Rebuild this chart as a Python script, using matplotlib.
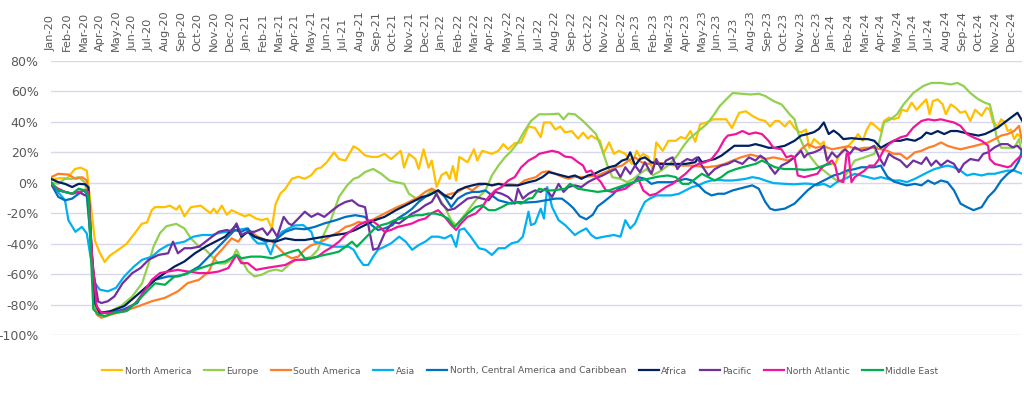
import matplotlib
matplotlib.use("Agg")
import matplotlib.pyplot as plt

plt.rcParams['font.family'] = ['DejaVu Sans']

month_names = ["Jan", "Feb", "Mar", "Apr", "May", "Jun", "Jul", "Aug", "Sep", "Oct", "Nov", "Dec"]
years = ["20", "21", "22", "23", "24"]
tick_labels = [f"{m}-{y}" for y in years for m in month_names]

series_names = ["North America", "Europe", "South America", "Asia",
                "North, Central America and Caribbean", "Africa", "Pacific",
                "North Atlantic", "Middle East"]
colors = ["#FFC000", "#92D050", "#FF7F27", "#00B0F0", "#0070C0",
          "#002060", "#7030A0", "#F0169B", "#00B050"]

# x = months since Jan-2020, y = % change
na_x = [0, 0.5, 1, 1.47, 1.8, 2.2, 2.45, 2.7, 3.0, 3.3, 3.6, 4.14, 4.65, 5.16, 5.57, 5.9, 6.19, 6.39, 7.0, 7.3, 7.7, 7.9, 8.2, 8.6, 9.2, 9.8, 10.0, 10.2, 10.5, 10.8, 11.1, 11.5, 11.9, 12.2, 12.6, 12.95, 13.3, 13.57, 13.8, 14.1, 14.4, 14.8,
        15.2, 15.6, 16.0, 16.3, 16.6, 16.95, 17.4, 17.7, 18.1, 18.6, 18.9, 19.3, 19.7, 20.1, 20.5, 20.9, 21.5, 21.7, 22.0, 22.4, 22.6, 22.9, 23.2, 23.4, 23.7, 24.0, 24.3, 24.5, 24.7, 24.9, 25.1, 25.6, 26.0, 26.2, 26.5, 27.1, 27.5, 27.8, 28.1, 28.5, 28.9, 29.35,
        29.75, 30.1, 30.3, 30.7, 31.0, 31.3, 31.6, 32.0, 32.4, 32.7, 33.0, 33.2, 33.5, 33.75, 33.95, 34.3, 34.6, 34.9, 35.3, 35.7, 36.0, 36.2, 36.4, 36.7, 37.0, 37.2, 37.6, 37.95, 38.4, 38.7, 39.0, 39.3, 39.6, 39.9, 40.3, 40.7, 41.0, 41.5, 41.85, 42.3, 42.7, 43.1, 43.5, 43.9, 44.2, 44.5,
        44.75, 45.1, 45.4, 45.7, 45.9, 46.1, 46.4, 46.6, 46.9, 47.3, 47.5, 47.7, 47.9, 48.2, 48.4, 48.6, 48.8, 49.1, 49.4, 49.6, 49.9, 50.1, 50.4, 50.7, 51.0, 51.2, 51.5, 51.8, 52.1, 52.3, 52.6, 52.9, 53.2, 53.5, 53.8, 54.0, 54.2, 54.5, 54.8, 55.0, 55.3, 55.6, 55.9, 56.2, 56.5, 56.8, 57.2, 57.5, 57.7, 57.9, 58.2, 58.4, 58.6, 58.8, 59.0, 59.2, 59.4, 59.7]
na_y = [2, 3, 3, 9, 10, 8, -15, -38, -46, -52, -48, -44, -40, -33, -27, -26, -18, -16, -16, -15, -17.6, -15, -22, -16, -15, -20, -17, -20, -15, -21, -18, -20, -22, -21, -23.5, -24.5, -23.5, -30, -14, -7, -4, 2.6,
        4, 2.6, 5, 9, 10, 13.5, 20, 15.6, 14.6, 24, 22, 18, 17, 17, 19, 15.6, 21, 10, 19, 15.6, 9, 22, 10, 14.6, -2.8, 5, 7, 2.6, 11, 1.5, 17, 13.5, 22, 14.6, 21, 19, 21, 25.4, 22, 26, 26.5, 37,
        36, 30, 39.6, 39.6, 35, 37, 33, 34, 29, 33, 29, 31, 29, 27.6, 19, 26.5, 19, 21, 19, 12.4, 21, 17, 19, 17, 8, 26.5, 21, 27.6, 27.6, 30, 29, 34, 27, 38.5, 39.6, 41.7, 41.7, 41.7, 36, 46, 47, 44, 41.7, 40.6, 37, 40.6,
        40.6, 37, 40.6, 36, 34, 33, 35, 23, 28.7, 25, 27, 14.6, 12.4, 12.4, 17, 21, 22, 25.4, 28.7, 32, 27.6, 34, 39.6, 37, 34, 40.6, 42.8, 41.7, 42.8, 48, 47, 52.6, 48, 51.5, 54.8, 45, 53.7, 54.8, 51.5, 45, 51.5, 49.3, 46, 47, 40.6, 48, 44, 49.3, 48, 39.6, 37, 41.7, 40, 34, 35, 28.7, 32, 28.7]

eu_x = [0, 0.45, 0.86, 1.3, 1.7, 2.1, 2.4, 2.7, 3.0, 3.5, 4.3, 5.0, 5.6, 6.0, 6.3, 6.7, 7.1, 7.7, 8.2, 8.6, 9.1, 9.5, 9.9, 10.3, 10.7, 11.1, 11.4, 11.7, 12.1, 12.5, 12.95, 13.4, 13.8, 14.2, 14.6, 15.0, 15.6, 16.0, 16.4, 16.7, 17.2, 17.7, 18.2, 18.6, 18.9, 19.3, 19.8, 20.3, 20.8, 21.2, 21.7, 22.0, 22.3, 22.6, 23.0, 23.4, 23.8, 24.2, 24.6, 24.9, 25.5, 26.1, 26.7, 27.1, 27.5, 27.9, 28.3, 28.7, 29.1, 29.5, 30.0, 30.6, 31.2, 31.5, 31.8, 32.2, 32.7, 33.1, 33.5, 33.9, 34.2, 34.5, 35.0, 35.4, 35.8, 36.2, 36.6, 37.0, 37.5, 38.0, 38.5, 38.8, 39.2, 39.8, 40.3, 40.7, 41.1, 41.5, 41.9, 42.4, 43.0, 43.5, 43.9, 44.4, 44.9, 45.4, 45.7, 46.0, 46.3, 46.7, 47.1, 47.5, 48.0, 48.3, 48.6, 48.9, 49.4, 50.0, 50.6, 50.9, 51.2, 51.6, 52.0, 52.4, 53.0, 53.6, 54.1, 54.7, 55.3, 55.7, 56.1, 56.5, 57.0, 57.4, 57.7, 57.9, 58.1, 58.4, 58.8, 59.2, 59.5, 59.7]
eu_y = [0, -0.6, 2.6, 2.6, 3.7, 0, -30, -83, -86.5, -85, -81, -74.6, -66, -53, -42, -33, -28.5, -27, -30, -36.5, -42, -44, -48.5, -53, -53, -50.6, -44, -50.6, -58, -61.5, -60.4, -58, -57, -58, -54, -51, -50, -48.5, -44, -35.4, -24.6, -9.3, -1.7, 2.6, 3.7, 7, 9.1, 5.9, 1.5, 0.4, -0.7, -7.2, -9.3, -11.5, -9.3, -5, -9.3, -16, -24.6, -28, -20, -11.5, -5, 4.8, 11.3, 16.7, 21, 26.5, 34, 40.6, 45, 45, 45.4, 41.7, 45.4, 45, 40.6, 36.3, 32, 21, 11.3, 3.7, 2.6, 0.4, 2.6, 6, 9, 5, 8, 12, 18, 23, 28.7, 34, 38.5, 44, 50.4, 54.8, 59, 58.5, 58, 58.5, 57, 53.7, 51.5, 45, 41.7, 30, 23, 16.7, 11.3, 8, 3.7, 1.5, 1, 5.9, 14.6, 16.7, 19, 26.5, 39.6, 41.7, 45, 51.5, 59, 63.5, 65.6, 65.6, 64.6, 65.6, 63.5, 59, 54.8, 52.6, 51.5, 42.8, 31, 23, 23, 23, 28.7, 16.7]

sa_x = [0, 0.45, 1.07, 1.5, 1.9, 2.2, 2.45, 2.8, 3.1, 3.7, 4.5, 5.4, 6.2, 7.0, 7.8, 8.4, 9.1, 9.7, 10.1, 10.5, 11.1, 11.5, 11.9, 12.3, 12.7, 13.2, 13.6, 14.0, 14.4, 14.8, 15.2, 15.6, 16.0, 16.4, 16.8, 17.3, 17.7, 18.1, 18.5, 18.9, 19.3, 19.7, 20.1, 20.5, 20.9, 21.3, 21.8, 22.2, 22.6, 23.0, 23.4, 23.8, 24.2, 24.6, 25.0, 25.5, 25.9, 26.3, 26.7, 27.1, 27.5, 28.3, 28.7, 29.1, 29.8, 30.2, 30.6, 31.0, 31.4, 31.8, 32.2, 32.7, 33.6, 34.3, 34.7, 35.1, 35.5, 35.9, 36.3, 36.7, 37.2, 37.7, 38.4, 39.4, 40.3, 40.9, 41.4, 41.9, 42.4, 43.0, 43.5, 43.9, 44.4, 44.9, 45.3, 45.7, 46.1, 46.5, 47.0, 47.5, 48.0, 48.5, 49.0, 49.5, 50.0, 50.6, 51.0, 51.4, 51.8, 52.2, 52.6, 53.1, 53.5, 53.9, 54.3, 54.7, 55.1, 55.5, 55.9, 56.3, 56.8, 57.2, 57.6, 58.0, 58.4, 58.8, 59.2, 59.5, 59.7]
sa_y = [3.7, 5.9, 5.4, 2.6, 3.7, 1.5, -40, -86.5, -88.7, -86.5, -84.3, -81, -77.8, -75.6, -71.3, -65.9, -63.7, -58.3, -48.5, -44, -36.5, -38.7, -33.3, -32.2, -35.4, -37.6, -38.7, -43, -47.4, -49.6, -48.5, -44, -41, -39.8, -37.6, -34.3, -32.2, -29, -27.8, -25.7, -26.7, -24.6, -22.4, -20.2, -18, -15.9, -13.7, -11.5, -9.3, -6, -3.9, -6, -8.3, -7.2, -6, -2.8, -5, -1.7, -0.7, -1.7, -0.7, -1, -1.7, 1.5, 3.7, 7, 7.6, 5.9, 4, 2.6, 4, 3.7, 4.8, 8, 10.2, 11.3, 14.6, 16.7, 13.5, 12.4, 13.5, 12.4, 11.3, 11.3, 10.2, 11, 12.4, 14.6, 16.7, 18.5, 17.2, 15.6, 16.7, 15.6, 14.6, 16.7, 22, 25.4, 23, 24, 22, 23, 24, 22, 23, 23, 22, 21, 19, 19, 15.6, 20, 21, 23, 24.3, 26.5, 24.3, 23, 22, 23, 24.3, 25.4, 26.5, 28.7, 31, 32, 34, 37.4, 26.5]

as_x = [0, 0.35, 0.86, 1.07, 1.5, 1.9, 2.2, 2.45, 2.7, 3.0, 3.5, 4.0, 4.5, 5.1, 5.6, 6.2, 6.7, 7.2, 7.7, 8.2, 8.75, 9.3, 9.9, 10.4, 10.9, 11.5, 12.0, 12.4, 12.7, 13.2, 13.5, 13.8, 14.2, 14.6, 15.0, 15.5, 16.0, 16.2, 16.6, 17.0, 17.4, 17.8, 18.3, 18.6, 18.9, 19.2, 19.5, 19.8, 20.1, 20.5, 20.9, 21.4, 21.8, 22.2, 22.6, 23.0, 23.4, 23.8, 24.2, 24.6, 24.9, 25.1, 25.4, 25.8, 26.3, 26.7, 27.1, 27.5, 27.9, 28.3, 28.7, 29.0, 29.35, 29.5, 29.75, 30.1, 30.3, 30.5, 30.8, 31.2, 31.6, 32.0, 32.2, 32.5, 32.9, 33.2, 33.5, 34.0, 34.6, 35.0, 35.3, 35.6, 35.9, 36.2, 36.5, 36.8, 37.2, 37.6, 38.1, 38.6, 39.0, 39.4, 39.8, 40.2, 40.6, 41.0, 41.4, 41.9, 42.3, 42.7, 43.1, 43.5, 43.9, 44.4, 45.1, 45.7, 46.3, 46.7, 47.1, 47.5, 47.9, 48.3, 48.8, 49.4, 49.8, 50.2, 50.6, 51.0, 51.4, 51.8, 52.2, 52.6, 53.1, 53.5, 53.9, 54.3, 54.7, 55.1, 55.5, 55.9, 56.3, 56.7, 57.2, 57.6, 58.0, 58.4, 58.8, 59.2, 59.7]
as_y = [0.4, -5, -11.5, -24.6, -32.2, -29, -33.3, -50, -65.9, -70.2, -71.3, -69, -61.5, -55, -50.6, -48.5, -44, -40.9, -39.8, -38.7, -35.4, -34.3, -34.3, -32.8, -32.2, -31, -30, -36.5, -39.8, -40, -47, -37.6, -32.2, -30, -28, -27.8, -32.2, -38.7, -39.8, -40.9, -42, -42, -42, -44, -49.6, -54, -54, -48.5, -44, -42, -39.8, -35.4, -38.7, -44, -40.9, -38.7, -35.4, -35.4, -36.5, -34.3, -42, -31, -30, -35.4, -43, -44, -47.4, -43, -43, -39.8, -38.7, -35.4, -19, -27.8, -26.7, -17, -23.5, -2.8, -16, -24.6, -27.8, -32.2, -34.3, -32.2, -30, -34.3, -36.5, -35.4, -34.3, -35.4, -24.6, -30, -26.7, -19, -12.6, -10.4, -8.3, -8.3, -8.3, -7.2, -5, -2.8, -1.7, 0.4, 1.5, 2, 1.5, 1.5, 2, 2.6, 3.7, 3, 1.5, -0.2, -0.7, -1, -0.5, -0.7, -1.7, -0.7, -2.8, 0.4, 2.6, 5.9, 4.8, 3.7, 2.6, 3.7, 2.6, 1.5, 1.5, 0.4, 2.6, 4.8, 7, 9, 10.2, 11.3, 10.2, 8, 4.8, 5.9, 4.8, 5.9, 5.9, 7, 8, 8, 5.9]

nc_x = [0, 0.45, 0.86, 1.3, 1.7, 2.0, 2.2, 2.45, 2.7, 3.0, 3.7, 4.5, 5.3, 5.8, 6.4, 7.2, 7.8, 8.4, 9.1, 9.7, 10.3, 10.9, 11.3, 11.7, 12.1, 12.5, 13.2, 13.8, 14.4, 15.0, 15.6, 16.2, 16.8, 17.5, 18.1, 18.7, 19.3, 19.7, 20.1, 20.5, 21.0, 21.3, 21.8, 22.2, 22.6, 23.0, 23.4, 23.8, 24.2, 24.6, 25.0, 25.5, 25.9, 26.3, 26.7, 27.1, 27.5, 27.9, 28.3, 28.7, 29.1, 29.8, 30.4, 31.0, 31.4, 31.8, 32.1, 32.5, 32.9, 33.3, 33.6, 34.0, 34.5, 34.9, 35.4, 35.8, 36.1, 36.5, 36.9, 37.3, 38.2, 38.6, 39.0, 39.4, 39.8, 40.2, 40.6, 41.0, 41.4, 41.9, 42.3, 42.7, 43.1, 43.5, 43.9, 44.2, 44.5, 45.1, 45.7, 46.1, 46.5, 46.9, 47.3, 47.7, 48.1, 48.5, 48.9, 49.4, 49.8, 50.2, 50.6, 51.0, 51.4, 51.8, 52.2, 52.6, 53.1, 53.5, 53.9, 54.3, 54.7, 55.1, 55.5, 55.9, 56.3, 56.7, 57.2, 57.6, 58.0, 58.4, 58.8, 59.2, 59.5, 59.7]
nc_y = [-0.7, -9.3, -11.5, -10.4, -7.2, -5, -7, -40, -79, -85.4, -85.4, -83, -79, -70.2, -63.7, -61.5, -61.5, -59.3, -55, -48.5, -42, -35.4, -31, -32.2, -30, -35.4, -38.7, -37.6, -32.2, -30, -30.5, -29, -26.7, -24.6, -22.4, -21.3, -22.4, -27.8, -31, -30, -27.8, -23.5, -20.2, -17, -12.6, -9.3, -7.2, -5, -9.3, -16, -10.4, -7.2, -6, -6, -5, -8.3, -11.5, -12.6, -13.7, -12.6, -13, -12.6, -11.5, -10.4, -10.4, -13.7, -16.6, -22, -24, -21, -15.5, -12.3, -8, -3.7, -1.5, 0, 3.7, 2.6, -0.7, 0.4, 0.4, 1.5, 2.6, 1.5, -1.7, -6, -8.3, -7.2, -7.2, -5, -3.9, -2.8, -1.7, -3.9, -12.6, -17, -18, -17, -13.7, -9.3, -5, -1.7, 0.4, 2.6, 4.8, 5.9, 8, 9, 10.2, 10.2, 10.2, 11.3, 4, 0.8, -0.5, -1.7, -0.7, -1.7, 1.5, -0.7, 1.5, 0.4, -5, -13.7, -16, -18, -16, -9.3, -5, 1.5, 5.9, 9, 14.6, 22]

af_x = [0, 0.45, 0.86, 1.3, 1.7, 2.1, 2.3, 2.5, 2.75, 3.0, 3.7, 4.5, 5.2, 5.8, 6.4, 7.0, 7.6, 8.2, 8.85, 9.5, 9.9, 10.3, 10.7, 11.1, 11.4, 11.7, 12.1, 12.5, 13.2, 13.8, 14.4, 15.0, 15.6, 16.2, 16.8, 17.5, 18.1, 18.7, 19.3, 19.9, 20.5, 21.2, 21.8, 22.4, 22.8, 23.2, 23.8, 24.2, 24.6, 25.0, 25.5, 25.9, 26.3, 26.7, 27.1, 27.5, 27.9, 28.7, 29.35, 29.8, 30.2, 30.6, 31.0, 31.4, 31.8, 32.2, 32.6, 33.0, 33.4, 33.8, 34.3, 34.7, 35.1, 35.4, 35.6, 35.9, 36.2, 36.5, 36.9, 37.3, 37.7, 38.4, 39.0, 39.6, 39.8, 40.0, 40.4, 40.8, 41.2, 41.6, 42.0, 42.5, 42.9, 43.3, 43.7, 44.1, 44.5, 45.1, 45.7, 46.1, 46.5, 46.9, 47.2, 47.5, 47.8, 48.1, 48.4, 48.7, 49.2, 49.8, 50.2, 50.6, 51.0, 51.4, 51.8, 52.2, 52.6, 53.1, 53.5, 53.8, 54.1, 54.5, 54.9, 55.3, 55.7, 56.1, 56.5, 57.0, 57.4, 57.8, 58.2, 58.6, 59.0, 59.4, 59.7]
af_y = [2.6, 0.4, -0.7, -2.8, -0.7, -1, -3, -45, -80, -85.4, -84.3, -81, -74.6, -69, -63.7, -59.3, -55, -51.7, -46.3, -42, -39.8, -37.6, -35.4, -31, -27.8, -35.4, -32.2, -35.4, -37.6, -38.7, -36.5, -37.6, -37.6, -36.5, -35.4, -34.3, -33.3, -31, -27.8, -24.6, -22.4, -18, -14.8, -11.5, -9.3, -8.3, -5, -8.3, -10.4, -5, -2.8, -1.7, -0.7, -0.7, -1.7, -0.7, -1.7, -1.7, 0.4, 1.5, 3.7, 7, 5.9, 4.8, 3.7, 4.8, 2.6, 4.8, 5.9, 8, 10.2, 11.3, 14.6, 15.6, 20, 11.3, 15.6, 16.7, 13.5, 12.4, 12.4, 12.4, 12.4, 13.5, 16.7, 13.5, 14.6, 15.6, 17.8, 21, 24.3, 24.3, 24.3, 25.4, 24.3, 23, 23, 24.3, 27.6, 31, 32, 33.3, 35.4, 39.6, 32, 34.3, 32, 28.7, 29.3, 28.7, 28.7, 27.6, 23, 25.4, 27.6, 27.6, 28.7, 27.6, 29.8, 33, 32, 34, 32, 34, 34, 33, 32, 31, 32, 34, 36.3, 39.6, 42.8, 46, 40.6]

pa_x = [0, 0.45, 0.86, 1.3, 1.7, 2.1, 2.3, 2.55, 2.9, 3.1, 3.5, 3.9, 4.4, 5.0, 5.5, 6.0, 6.6, 7.2, 7.5, 7.8, 8.2, 8.6, 9.1, 9.5, 9.9, 10.3, 10.8, 11.1, 11.4, 11.7, 12.1, 12.5, 13.0, 13.3, 13.6, 13.9, 14.3, 14.6, 14.8, 15.2, 15.6, 16.0, 16.4, 16.8, 17.3, 17.7, 18.1, 18.5, 18.9, 19.3, 19.6, 19.8, 20.1, 20.5, 21.0, 21.4, 21.8, 22.2, 22.6, 23.0, 23.4, 23.7, 24.0, 24.4, 24.8, 25.2, 25.6, 26.1, 26.5, 26.9, 27.3, 27.7, 28.1, 28.5, 28.7, 29.0, 29.35, 29.75, 30.1, 30.4, 30.8, 31.2, 31.5, 31.8, 32.2, 32.6, 33.0, 33.4, 33.9, 34.3, 34.7, 35.0, 35.3, 35.6, 35.9, 36.2, 36.5, 36.9, 37.2, 37.5, 37.8, 38.2, 38.5, 38.8, 39.1, 39.4, 39.7, 40.0, 40.4, 40.8, 41.2, 41.6, 42.0, 42.5, 42.9, 43.3, 43.6, 43.9, 44.2, 44.5, 44.9, 45.3, 45.7, 46.1, 46.3, 46.5, 46.9, 47.3, 47.5, 47.7, 48.0, 48.3, 48.8, 49.1, 49.4, 49.8, 50.2, 50.6, 50.9, 51.2, 51.5, 51.8, 52.2, 52.6, 53.0, 53.5, 53.8, 54.1, 54.4, 54.7, 55.1, 55.5, 55.8, 56.1, 56.5, 57.0, 57.3, 57.6, 58.0, 58.4, 58.8, 59.1, 59.4, 59.7]
pa_y = [-0.7, -5, -6, -7.2, -6, -8.3, -7.5, -55, -78, -79, -77.8, -74.6, -66, -59.3, -56, -50.6, -47.4, -46.3, -38.7, -46.3, -43, -43, -42, -38.7, -35.4, -32.2, -31, -32, -26.7, -34.3, -32.2, -32.2, -30, -34.3, -30, -35.4, -22.4, -26.7, -27.8, -23.5, -19, -22.4, -20.2, -22.4, -18, -14.8, -12.6, -11.5, -14.8, -16, -33.3, -44, -43, -33.3, -25.7, -26.7, -23.5, -20.2, -18, -14.8, -12.6, -7.2, -13.7, -18, -17, -13.7, -10.4, -9.3, -10.4, -11.5, -6, -7.2, -9.3, -13.7, -3.9, -10.4, -7.2, -5, -6, -3.9, -9.3, -0.7, -6, -2.8, -1.7, -2.8, 0.4, 2.6, 4.8, 7, 9, 3.7, 10.2, 5.9, 11.3, 7, 13.5, 5.9, 15.6, 9, 14.6, 16.7, 9, 13.5, 15.6, 14.6, 16.7, 11.3, 4.8, 9, 11.3, 12.4, 14.6, 12.4, 16.7, 14.6, 17.8, 15.6, 10.2, 5.9, 11.3, 13.5, 16.7, 21, 16.7, 19, 20, 22, 24.3, 14.6, 20, 16.7, 22, 19, 23.3, 21, 22, 24.3, 16.7, 11.3, 19, 16.7, 14.6, 10.2, 14.6, 12.4, 16.7, 11.3, 14.6, 11.3, 14.6, 12.4, 7, 12.4, 15.6, 14.6, 19, 20, 23.3, 25.4, 25.4, 23.3, 24.3, 21]

at_x = [0, 0.45, 0.86, 1.3, 1.7, 2.1, 2.3, 2.5, 2.8, 3.1, 3.7, 4.5, 5.2, 5.8, 6.2, 6.7, 7.2, 7.8, 8.4, 9.1, 9.7, 10.3, 10.9, 11.4, 11.7, 12.1, 12.6, 13.2, 13.8, 14.4, 15.0, 15.6, 16.0, 16.4, 16.8, 17.3, 17.7, 18.1, 18.5, 18.9, 19.3, 19.7, 20.1, 20.5, 20.9, 21.3, 21.8, 22.2, 22.6, 23.0, 23.4, 23.8, 24.2, 24.6, 24.9, 25.2, 25.6, 26.1, 26.5, 26.9, 27.3, 27.7, 28.1, 28.5, 28.9, 29.35, 29.8, 30.0, 30.4, 30.8, 31.2, 31.6, 32.0, 32.4, 32.7, 32.9, 33.2, 33.5, 33.8, 34.1, 34.5, 34.9, 35.3, 35.7, 36.1, 36.4, 36.8, 37.2, 37.5, 37.8, 38.2, 38.6, 39.0, 39.4, 39.8, 40.2, 40.6, 41.0, 41.4, 41.6, 42.1, 42.5, 42.9, 43.3, 43.7, 44.1, 44.4, 44.9, 45.2, 45.5, 45.7, 45.9, 46.3, 46.7, 47.1, 47.4, 47.7, 48.0, 48.2, 48.4, 48.7, 48.9, 49.0, 49.2, 49.4, 49.7, 50.0, 50.3, 50.6, 50.9, 51.2, 51.5, 51.8, 52.2, 52.6, 53.0, 53.5, 53.9, 54.3, 54.7, 55.1, 55.5, 55.9, 56.3, 56.7, 57.2, 57.6, 57.7, 58.0, 58.4, 58.8, 59.0, 59.2, 59.5, 59.7]
at_y = [-0.7, -3.9, -6, -7.2, -6, -5, -6, -45, -81, -85.4, -85.4, -84.3, -79, -70.2, -63.7, -59.3, -58.3, -57.2, -58.3, -59.3, -59.3, -58.3, -56, -47.4, -52.8, -52.8, -57.2, -56, -55, -54, -50.6, -50.6, -49.6, -48.5, -45.2, -42, -38.7, -34.3, -31, -27.8, -25.7, -24.6, -27.8, -32.2, -31, -29, -27.8, -26.7, -24.6, -23.5, -20, -18, -22.4, -27.8, -31, -26.7, -22.4, -20.2, -16, -9.3, -5, -2.8, 1.5, 3.7, 10.2, 14.6, 17.2, 19, 20, 21, 20, 17.2, 16.7, 13.5, 11.3, 7, 8, 3.7, 0.4, -5, -6, -5, -3.9, -0.7, 2.6, -5, -8.3, -7.2, -5, -2.8, -0.7, 2.6, 5.9, 10.2, 12.4, 13.5, 15.6, 21, 28.7, 31, 32, 34, 32, 33, 32, 27.6, 23, 22, 16.7, 17.8, 16.7, 4.8, 3.7, 4.8, 5.9, 10.2, 12.4, 14.6, 11.3, 1.5, 0.4, 19, 20, 0.4, 3.7, 5.9, 8, 11.3, 11.3, 15.6, 22, 25.4, 27.6, 29.8, 31, 36.3, 40.6, 41.7, 41, 41.7, 40.6, 39.6, 37.4, 32, 29.8, 27.6, 24.3, 15.6, 12.4, 11.3, 10.2, 11, 13.5, 16.7, 17.8]

me_x = [0, 0.45, 0.86, 1.3, 1.7, 2.1, 2.3, 2.6, 2.9, 3.3, 3.9, 4.65, 5.2, 5.8, 6.4, 7.0, 7.6, 8.2, 8.85, 9.5, 10.1, 10.7, 11.4, 11.7, 12.3, 12.9, 13.6, 14.2, 14.8, 15.2, 15.6, 16.0, 16.4, 16.8, 17.3, 17.7, 18.1, 18.5, 18.8, 19.1, 19.5, 19.9, 20.3, 20.7, 21.1, 21.5, 22.0, 22.4, 22.8, 23.2, 23.6, 24.0, 24.4, 24.8, 25.2, 25.6, 26.1, 26.5, 26.9, 27.3, 27.7, 28.1, 28.5, 28.9, 29.35, 29.6, 30.0, 30.4, 30.8, 31.2, 31.6, 31.9, 32.4, 33.0, 33.6, 34.3, 34.9, 35.5, 36.1, 36.7, 37.3, 37.9, 38.4, 38.8, 39.2, 39.6, 40.0, 40.4, 40.8, 41.2, 41.6, 42.1, 42.5, 42.9, 43.3, 43.7, 44.1, 44.5, 45.1, 45.7, 46.3, 46.9, 47.5, 47.9]
me_y = [0.4, -5, -6, -7.2, -3.9, -5, -9, -83, -86.5, -87.6, -85.4, -84.3, -79, -72.4, -66, -67, -61.5, -60.4, -57.2, -55, -52.8, -51.7, -47.4, -49.6, -48.5, -48.5, -49.6, -47.4, -45.2, -44, -49.6, -49.6, -48.5, -47.4, -46.3, -45.2, -42, -38.7, -42, -38.7, -34.3, -30, -27.8, -26.7, -24.6, -23.5, -22.4, -21.3, -21.3, -20.2, -20.2, -21.3, -23.5, -29, -24.6, -20.2, -16, -14.8, -18, -18, -16, -13.7, -12.6, -13.7, -10.4, -10, -3.9, -5, -5, -4.5, -3.9, -0.7, -3.9, -5, -6, -5, -2.8, -0.7, 1.5, 2.6, 4, 4.8, 3.7, -0.7, -0.7, 2.6, 5.9, 3.7, 1.5, 3.7, 7, 9, 10.2, 11.3, 12.4, 14.6, 12.4, 10.2, 9, 9, 8.5, 9, 11.3, 12.4]

series_x = [na_x, eu_x, sa_x, as_x, nc_x, af_x, pa_x, at_x, me_x]
series_y = [na_y, eu_y, sa_y, as_y, nc_y, af_y, pa_y, at_y, me_y]
y_ticks = [-100, -80, -60, -40, -20, 0, 20, 40, 60, 80]

W, H = 1024, 395
fig = plt.figure(figsize=(W / 100, H / 100), dpi=100)
ax = fig.add_axes([51 / W, 1 - 335 / H, (1022 - 51) / W, (335 - 61) / H])

for name, xs, ys, c in zip(series_names, series_x, series_y, colors):
    ax.plot(xs, ys, color=c, lw=1.6, label=name, solid_joinstyle='round')

ax.set_xlim(0, 59.68)
ax.set_ylim(-100, 80)
ax.set_yticks(y_ticks)
ax.set_yticklabels([f"{v}%" for v in y_ticks])
ax.yaxis.grid(True, color="#D9D8EE", lw=1.0)
ax.set_axisbelow(True)
for s in ax.spines.values():
    s.set_visible(False)
ax.tick_params(axis='y', length=0, pad=9, labelsize=9, labelcolor="#595959")

ax.xaxis.tick_top()
ax.set_xticks(list(range(len(tick_labels))))
ax.set_xticklabels(tick_labels, rotation=90)
ax.tick_params(axis='x', length=0, pad=7, labelsize=8.2, labelcolor="#595959")

leg = fig.legend(loc='center', bbox_to_anchor=(520 / W, 1 - 371 / H), ncol=9,
                 frameon=False, fontsize=6.6, handlelength=2.2, handletextpad=0.25,
                 columnspacing=1.35, labelcolor="#595959")

fig.savefig("out.png", dpi=100)
